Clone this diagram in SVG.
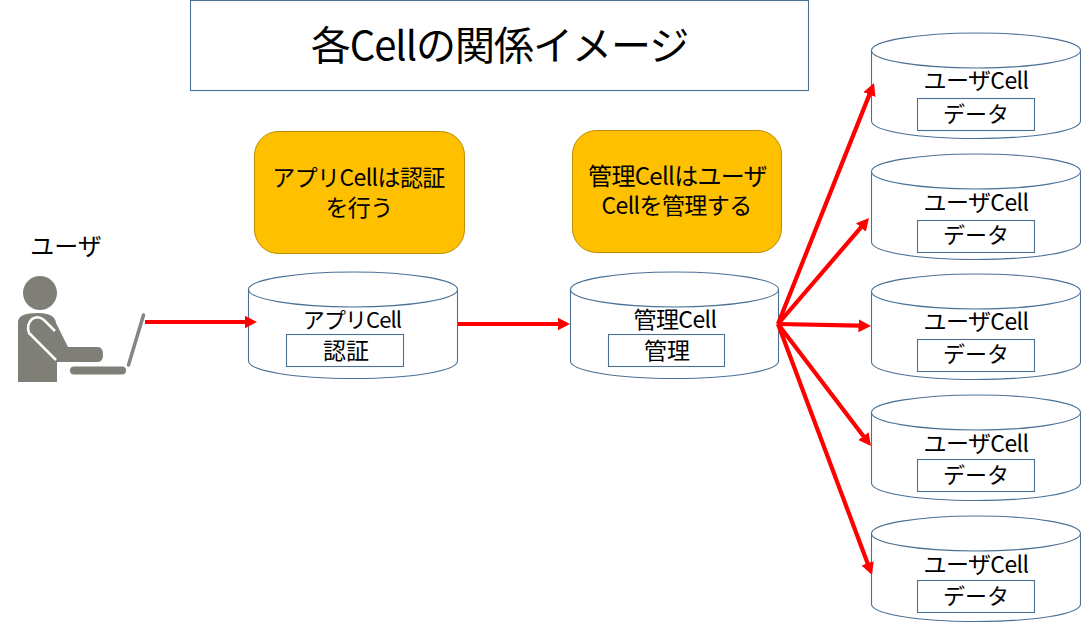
<svg xmlns="http://www.w3.org/2000/svg" width="1081" height="624" viewBox="0 0 1081 624">
<style>
.s{fill:#fff;stroke:#4a7094;stroke-width:1.1}
.o{fill:#ffc000;stroke:#bc8c00;stroke-width:1}
text{font-family:"Noto Sans CJK JP","Noto Sans",sans-serif;fill:#000;text-anchor:middle}
.t{font-size:23px;letter-spacing:-0.600px}
.d{font-size:22px}
.l{stroke:#f00;stroke-width:4.200;fill:none;marker-end:url(#a)}
.p{fill:#7f7f77}
</style>
<defs>
<marker id="a" markerUnits="userSpaceOnUse" markerWidth="13" markerHeight="14" refX="0.500" refY="7" orient="auto"><path d="M0 0.500L12.500 7L0 13.500z" fill="#f00"/></marker>
</defs>
<rect width="1081" height="624" fill="#fff"/>
<g id="title"><rect class="s" x="190.500" y="0.500" width="618" height="90"/><text x="499.500" y="60" style="font-size:40px;letter-spacing:-1px">各Cellの関係イメージ</text></g>
<g id="person">
<circle class="p" cx="40" cy="293" r="17"/>
<path class="p" d="M18 382V322Q18 313 38 313Q55 313 56 323L68 347H98Q103 347 103 355Q103 362 98 362H57V382Z"/>
<path d="M55 331L44 320Q38 315 32 319Q26 325 29 333L56 360" fill="none" stroke="#fff" stroke-width="2.500"/>
<rect class="p" x="70" y="366.500" width="56" height="8" rx="4"/>
<path d="M143.500 315L128.500 365" stroke="#85857f" stroke-width="3.500" stroke-linecap="round"/>
<text x="66" y="255" style="font-size:24px">ユーザ</text>
</g>
<g id="note1"><rect class="o" x="254.500" y="131.500" width="210" height="122" rx="24"/><text class="t"><tspan x="358.500" y="186">アプリCellは認証</tspan><tspan x="359" y="216">を行う</tspan></text></g>
<g id="note2"><rect class="o" x="572.500" y="130.500" width="209" height="122" rx="24"/><text class="t"><tspan x="677.500" y="185" style="font-size:24px;letter-spacing:-0.700px">管理Cellはユーザ</tspan><tspan x="676.500" y="214">Cellを管理する</tspan></text></g>
<g id="app"><path class="s" d="M248.500 289.500V361C248.500 371 295 378.500 353 378.500S457.500 371 457.500 361V289.500"/><ellipse class="s" cx="353" cy="289.500" rx="104.500" ry="17.500"/><text x="352" y="328" style="font-size:22px;letter-spacing:-0.900px">アプリCell</text><rect class="s" x="286.500" y="334.500" width="117" height="32"/><text x="346" y="359" style="font-size:23px">認証</text></g>
<g id="mgr"><path class="s" d="M570.500 289.500V361C570.500 371 617 378.500 674.500 378.500S778.500 371 778.500 361V289.500"/><ellipse class="s" cx="674.500" cy="289.500" rx="104" ry="17.500"/><text class="t" x="675" y="328">管理Cell</text><rect class="s" x="608.500" y="334.500" width="116" height="32"/><text x="667" y="359" style="font-size:23px">管理</text></g>
<g id="user1"><path class="s" d="M871.500 50.500V121C871.500 131 918 138.500 976 138.500S1080.500 131 1080.500 121V50.500"/><ellipse class="s" cx="976" cy="50.500" rx="104.500" ry="17.500"/><text class="t" x="976" y="89">ユーザCell</text><rect class="s" x="917.500" y="98.500" width="117" height="32"/><text class="d" x="976" y="122">データ</text></g>
<g id="user2"><path class="s" d="M871.500 171.500V242C871.500 252 918 259.500 976 259.500S1080.500 252 1080.500 242V171.500"/><ellipse class="s" cx="976" cy="171.500" rx="104.500" ry="17.500"/><text class="t" x="976" y="211">ユーザCell</text><rect class="s" x="917.500" y="220.500" width="117" height="32"/><text class="d" x="976" y="243">データ</text></g>
<g id="user3"><path class="s" d="M871.500 291.500V362C871.500 372 918 379.500 976 379.500S1080.500 372 1080.500 362V291.500"/><ellipse class="s" cx="976" cy="291.500" rx="104.500" ry="17.500"/><text class="t" x="976" y="330">ユーザCell</text><rect class="s" x="917.500" y="339.500" width="117" height="32"/><text class="d" x="976" y="362">データ</text></g>
<g id="user4"><path class="s" d="M871.500 412.500V483C871.500 493 918 500.500 976 500.500S1080.500 493 1080.500 483V412.500"/><ellipse class="s" cx="976" cy="412.500" rx="104.500" ry="17.500"/><text class="t" x="976" y="452">ユーザCell</text><rect class="s" x="917.500" y="459.500" width="117" height="32"/><text class="d" x="976" y="483">データ</text></g>
<g id="user5"><path class="s" d="M871.500 533.500V604C871.500 614 918 621.500 976 621.500S1080.500 614 1080.500 604V533.500"/><ellipse class="s" cx="976" cy="533.500" rx="104.500" ry="17.500"/><text class="t" x="976" y="573">ユーザCell</text><rect class="s" x="917.500" y="580.500" width="117" height="32"/><text class="d" x="976" y="604">データ</text></g>
<g id="connectors">
<line class="l" x1="145" y1="322" x2="245" y2="322"/>
<line class="l" x1="458" y1="324" x2="558" y2="324"/>
<line class="l" x1="778" y1="324" x2="869.600" y2="94.100"/>
<line class="l" x1="778" y1="324" x2="861.200" y2="227.100"/>
<line class="l" x1="778" y1="324" x2="859" y2="325.700"/>
<line class="l" x1="778" y1="324" x2="863.700" y2="436.500"/>
<line class="l" x1="778" y1="324" x2="867.800" y2="563.800"/>
</g>
</svg>
